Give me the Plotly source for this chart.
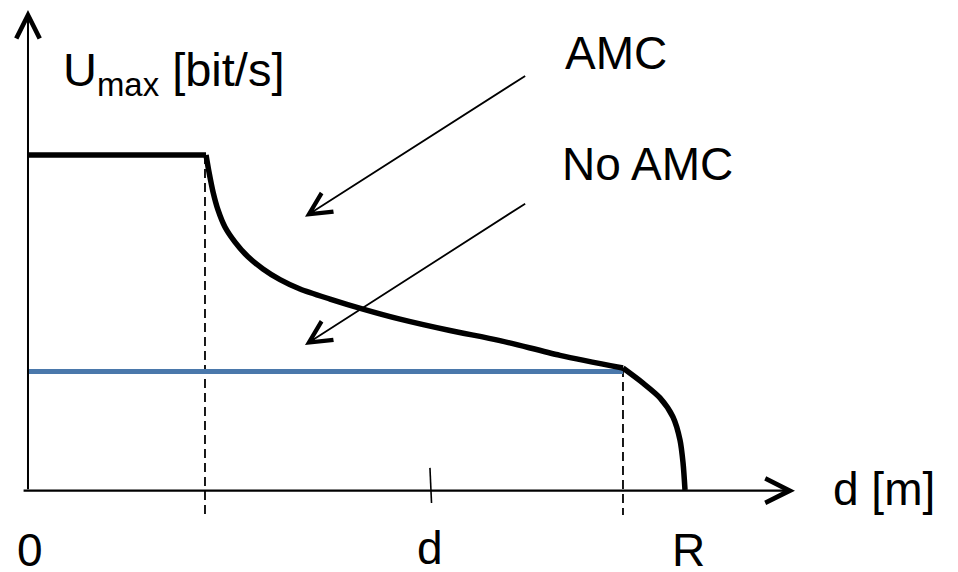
import plotly.graph_objects as go

# ---- data (normalised: distance d / R, throughput U / U_max) ----
d_flat = [0.0, 0.271]
u_flat = [1.0, 1.0]

d_amc_mid = [0.271, 0.2755, 0.2816, 0.2892, 0.2998, 0.3151, 0.3349, 0.3577, 0.3836,
             0.414, 0.4597, 0.5099, 0.5662, 0.6423, 0.7184, 0.8097, 0.9056]
u_amc_mid = [1.0, 0.949, 0.890, 0.836, 0.785, 0.740, 0.696, 0.660, 0.628,
             0.600, 0.570, 0.540, 0.510, 0.476, 0.446, 0.402, 0.364]

d_amc_tail = [0.9056, 0.9361, 0.9619, 0.9817, 0.9924, 0.997, 1.0]
u_amc_tail = [0.364, 0.319, 0.275, 0.218, 0.149, 0.081, 0.0]

d_noamc = [0.0, 0.9056]
u_noamc = [0.354, 0.354]

d_break = 0.2694      # end of flat AMC region
d_r_knee = 0.9056     # knee before R
d_mark = 0.613        # tick "d"
u_floor = -0.075      # lower end of dashed guides

x_range = [-0.0426, 1.4155]
y_range = [-0.2448, 1.4627]

FONT = "Liberation Sans, Arial, sans-serif"
FS = 46
BLACK = "#000000"
BLUE = "#4a78ab"

fig = go.Figure()

# dashed guides
fig.add_trace(go.Scatter(x=[d_break, d_break], y=[1.0, u_floor], mode="lines",
                         line=dict(color=BLACK, width=1.8, dash="9px,5px"), hoverinfo="skip"))
fig.add_trace(go.Scatter(x=[d_r_knee, d_r_knee], y=[u_amc_tail[0], u_floor], mode="lines",
                         line=dict(color=BLACK, width=1.8, dash="9px,5px"), hoverinfo="skip"))

# No AMC
fig.add_trace(go.Scatter(x=d_noamc, y=u_noamc, mode="lines",
                         line=dict(color=BLUE, width=5), hoverinfo="skip"))

# AMC
fig.add_trace(go.Scatter(x=d_flat, y=u_flat, mode="lines",
                         line=dict(color=BLACK, width=5.5), hoverinfo="skip"))
fig.add_trace(go.Scatter(x=d_amc_mid, y=u_amc_mid, mode="lines",
                         line=dict(color=BLACK, width=5.5, shape="spline", smoothing=0.8),
                         hoverinfo="skip"))
fig.add_trace(go.Scatter(x=d_amc_tail, y=u_amc_tail, mode="lines",
                         line=dict(color=BLACK, width=5.5, shape="spline", smoothing=0.8),
                         hoverinfo="skip"))

# tick mark at d
fig.add_trace(go.Scatter(x=[d_mark - 0.0012, d_mark + 0.0012], y=[0.066, -0.039], mode="lines",
                         line=dict(color=BLACK, width=1.6), hoverinfo="skip"))

annotations = []


def arrow(x0, y0, x1, y1, width=2.0, size=1.6):
    annotations.append(dict(x=x1, y=y1, ax=x0, ay=y0, xref="x", yref="y", axref="x", ayref="y",
                            text="", showarrow=True, arrowhead=5, arrowsize=size,
                            arrowwidth=width, arrowcolor=BLACK, standoff=0))


# axes
arrow(0.0, -0.002, 0.0, 1.433, width=2.0, size=2.3)
arrow(-0.009, -0.002, 1.1674, -0.002, width=2.4, size=2.0)
# pointer arrows
arrow(0.759, 1.2388, 0.4216, 0.8158, width=1.8, size=2.4)
arrow(0.759, 0.8577, 0.4216, 0.4328, width=1.8, size=2.4)


def label(text, x, y, xanchor="left", size=FS):
    annotations.append(dict(x=x, y=y, xref="x", yref="y", text=text, showarrow=False,
                            xanchor=xanchor, yanchor="middle",
                            font=dict(family=FONT, size=size, color=BLACK)))


label("U<sub>max</sub> [bit/s]", 0.050, 1.245, size=47)
label("AMC", 0.815, 1.3045)
label("No AMC", 0.809, 0.973)
label("d [m]", 1.222, 0.002)
label("0", 0.0023, -0.180, "center")
label("d", 0.612, -0.174, "center")
label("R", 1.006, -0.180, "center")

fig.update_layout(
    width=958, height=572,
    margin=dict(l=0, r=0, t=0, b=0),
    paper_bgcolor="white", plot_bgcolor="white",
    showlegend=False,
    xaxis=dict(range=x_range, visible=False, fixedrange=True),
    yaxis=dict(range=y_range, visible=False, fixedrange=True),
    annotations=annotations,
)

fig.write_html("out.html", config={"displayModeBar": False},
               post_script="document.body.style.margin='0';document.body.style.overflow='hidden';")
